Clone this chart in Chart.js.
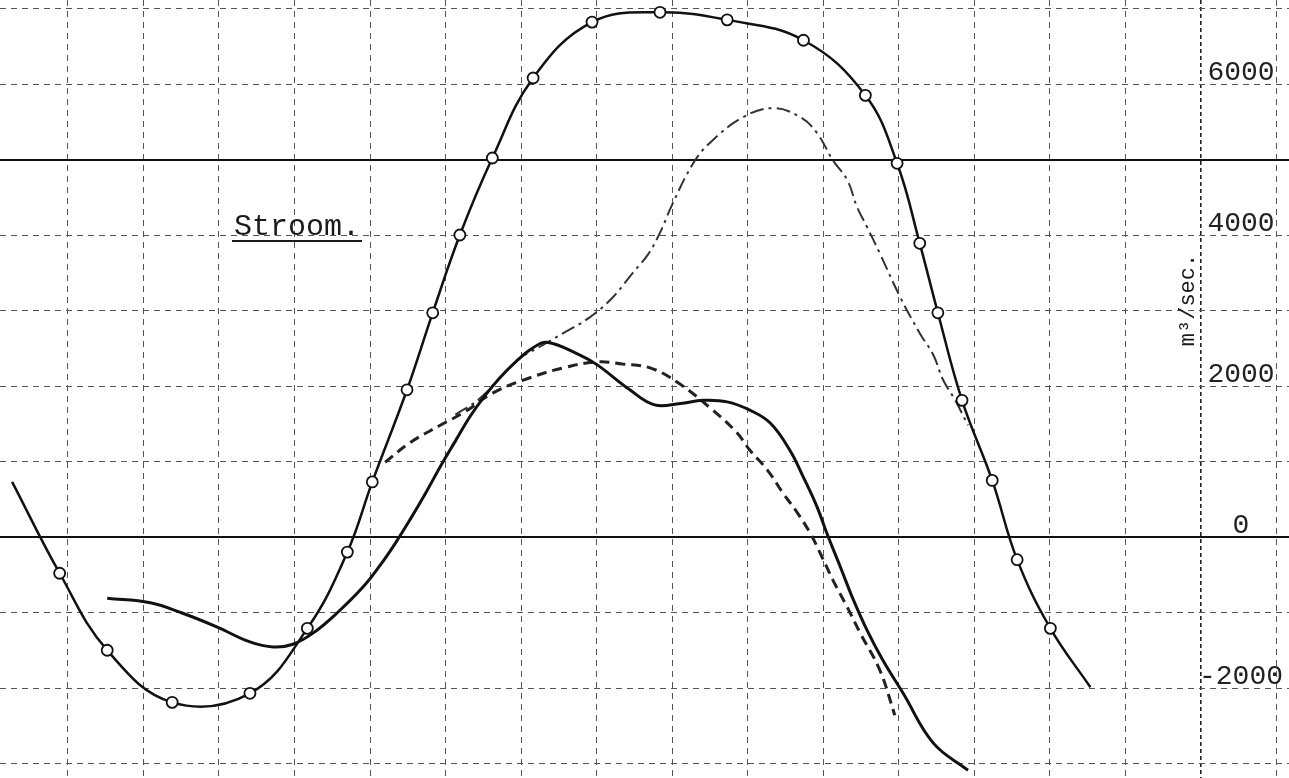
<!DOCTYPE html>
<html>
<head>
<meta charset="utf-8">
<script src="https://cdn.jsdelivr.net/npm/chart.js@4.4.1/dist/chart.umd.min.js"></script>
<style>
  html, body { margin: 0; padding: 0; background: #fff; }
  #wrap { width: 1289px; height: 778px; }
</style>
</head>
<body>
<div id="wrap"><canvas id="stroom" width="1289" height="778"></canvas></div>
<script>
// gemeten stroom (lijn met rondjes)
const xGemeten = [-0.74, -0.11, 0.52, 1.38, 2.41, 3.17, 3.70, 4.03, 4.49, 4.83, 5.19, 5.62, 6.16, 6.94, 7.84, 8.73, 9.74, 10.56, 10.98, 11.28, 11.52, 11.84, 12.24, 12.57, 13.01, 13.54];
const yGemeten = [730, -480, -1500, -2190, -2070, -1210, -200, 730, 1950, 2970, 4000, 5020, 6080, 6820, 6950, 6850, 6580, 5850, 4950, 3890, 2970, 1810, 750, -300, -1210, -1990];

// getrokken lijn zonder rondjes
const xLijn = [0.52, 1.09, 1.52, 1.97, 2.41, 2.72, 2.98, 3.25, 3.56, 3.91, 4.13, 4.33, 4.53, 4.73, 4.93, 5.13, 5.32, 5.52, 5.72, 5.95, 6.15, 6.34, 6.78, 7.01, 7.44, 7.77, 8.11, 8.41, 8.73, 9.03, 9.30, 9.56, 9.74, 9.92, 10.05, 10.23, 10.40, 10.58, 10.79, 11.06, 11.46, 11.92];
const yLijn = [-810, -870, -1010, -1190, -1390, -1457, -1420, -1270, -1010, -660, -380, -90, 230, 570, 930, 1270, 1590, 1870, 2110, 2340, 2500, 2580, 2410, 2280, 1950, 1750, 1770, 1810, 1790, 1680, 1510, 1150, 790, 400, 50, -400, -830, -1230, -1630, -2070, -2730, -3090];

// gestreepte lijn
const xStreep = [4.20, 4.53, 4.93, 5.26, 5.63, 6.12, 6.56, 7.01, 7.35, 7.71, 8.07, 8.54, 8.86, 9.03, 9.26, 9.47, 9.66, 9.83, 9.96, 10.13, 10.32, 10.49, 10.75, 10.95];
const yStreep = [990, 1250, 1480, 1660, 1910, 2110, 2240, 2320, 2290, 2240, 2050, 1680, 1380, 1150, 890, 580, 320, 50, -210, -570, -930, -1270, -1760, -2360];

// streep-punt lijn
const xStreepPunt = [5.13, 5.46, 5.95, 6.25, 6.56, 6.91, 7.21, 7.48, 7.68, 7.84, 8.00, 8.28, 8.50, 8.94, 9.34, 9.70, 9.92, 10.13, 10.32, 10.45, 10.58, 10.75, 11.02, 11.28, 11.46, 11.59, 11.75, 11.92];
const yStreepPunt = [1620, 1840, 2340, 2520, 2700, 2910, 3170, 3500, 3740, 4030, 4400, 4950, 5220, 5560, 5680, 5560, 5350, 4990, 4730, 4370, 4110, 3760, 3180, 2700, 2410, 2080, 1810, 1480];

// ruitpapier en as-labels (m3/sec)
const xGrid = [0, 1, 2, 3, 4, 5, 6, 7, 8, 9, 10, 11, 12, 13, 14, 15, 16];
const yGrid = [-3000, -2000, -1000, 0, 1000, 2000, 3000, 4000, 5000, 6000, 7000];
const yTickLabels = [-2000, 0, 2000, 4000, 6000];
const heavyY = [0, 5000];
const axisX = 15;

function toPoints(xs, ys) {
  return xs.map((x, i) => ({ x: x, y: ys[i] }));
}

Chart.defaults.font.family = "'Liberation Mono', 'DejaVu Sans Mono', monospace";

// tekst "Stroom." en eenheid
const textPlugin = {
  id: "stroomText",
  afterDraw(chart) {
    const c = chart.ctx;
    c.save();
    c.fillStyle = "#1a1a1a";
    c.strokeStyle = "#1a1a1a";
    c.font = "30px 'Liberation Mono', monospace";
    c.textBaseline = "alphabetic";
    c.textAlign = "left";
    c.fillText("Stroom.", 234, 235);
    const w = c.measureText("Stroom.").width;
    c.lineWidth = 2;
    c.beginPath();
    c.moveTo(232, 241);
    c.lineTo(236 + w, 241);
    c.stroke();

    // m3/sec. verticaal
    c.translate(1188, 300);
    c.rotate(-Math.PI / 2);
    c.textAlign = "center";
    c.textBaseline = "middle";
    c.font = "22px 'Liberation Mono', monospace";
    c.fillText("m³/sec.", 0, 0);
    c.restore();
  },
};

const ctx = document.getElementById("stroom");

new Chart(ctx, {
  type: "line",
  data: {
    datasets: [
      {
        data: toPoints(xGemeten, yGemeten),
        borderColor: "#111",
        borderWidth: 2.5,
        tension: 0.4,
        pointRadius: (c) => (c.dataIndex === 0 || c.dataIndex === xGemeten.length - 1 ? 0 : 5.5),
        pointBackgroundColor: "#fff",
        pointBorderColor: "#111",
        pointBorderWidth: 1.8,
        order: 0,
      },
      {
        data: toPoints(xLijn, yLijn),
        borderColor: "#111",
        borderWidth: 3,
        tension: 0.4,
        pointRadius: 0,
        order: 1,
      },
      {
        data: toPoints(xStreep, yStreep),
        borderColor: "#222",
        borderWidth: 3,
        borderDash: [10, 6],
        tension: 0.4,
        pointRadius: 0,
        order: 2,
      },
      {
        data: toPoints(xStreepPunt, yStreepPunt),
        borderColor: "#333",
        borderWidth: 2,
        borderDash: [14, 5, 3, 5],
        tension: 0.4,
        pointRadius: 0,
        order: 3,
      },
    ],
  },
  options: {
    responsive: false,
    devicePixelRatio: 1,
    animation: false,
    layout: { padding: 0, autoPadding: false },
    plugins: {
      legend: { display: false },
      tooltip: { enabled: false },
    },
    scales: {
      x: {
        type: "linear",
        position: "bottom",
        min: -0.9,
        max: 16.17,
        afterBuildTicks: (s) => {
          s.ticks = xGrid.map((v) => ({ value: v }));
        },
        afterFit: (s) => {
          s.height = 0;
          s.paddingLeft = 0;
          s.paddingRight = 0;
        },
        border: {
          display: false,
          dash: (c) => (c.tick && c.tick.value === axisX ? [4, 3] : [6, 5]),
        },
        grid: {
          drawTicks: false,
          color: (c) => (c.tick && c.tick.value === axisX ? "#222" : "#555"),
          lineWidth: (c) => (c.tick && c.tick.value === axisX ? 1.6 : 1),
        },
        ticks: { display: false },
      },
      y: {
        type: "linear",
        position: "right",
        min: -3192,
        max: 7113,
        afterBuildTicks: (s) => {
          s.ticks = yGrid.map((v) => ({ value: v }));
        },
        afterFit: (s) => {
          s.width = 0;
          s.paddingTop = 0;
          s.paddingBottom = 0;
        },
        border: {
          display: false,
          dash: (c) => (c.tick && heavyY.includes(c.tick.value) ? [] : [6, 5]),
        },
        grid: {
          drawTicks: false,
          color: (c) => (c.tick && heavyY.includes(c.tick.value) ? "#111" : "#555"),
          lineWidth: (c) => (c.tick && heavyY.includes(c.tick.value) ? 2 : 1),
        },
        ticks: {
          autoSkip: false,
          mirror: true,
          crossAlign: "center",
          padding: -6,
          labelOffset: -11,
          color: "#222",
          font: { size: 28 },
          callback: (v) => (yTickLabels.includes(v) ? (v < 0 ? "-" + Math.abs(v) : String(v)) : ""),
        },
      },
    },
  },
  plugins: [textPlugin],
});
</script>
</body>
</html>
